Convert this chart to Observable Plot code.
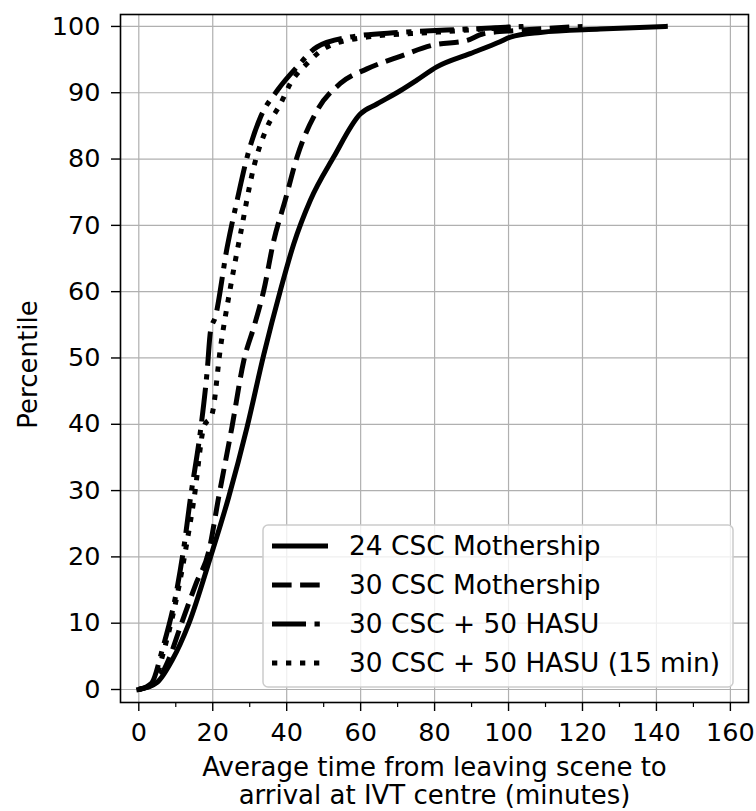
<!DOCTYPE html>
<html><head><meta charset="utf-8">
<script src="https://cdn.jsdelivr.net/npm/d3@7"></script>
<script src="https://cdn.jsdelivr.net/npm/@observablehq/plot@0.6"></script>
<style>
  html,body{margin:0;padding:0;background:#fff;}
  #chart svg{display:block;font-family:"DejaVu Sans",sans-serif;}
</style>
</head><body><div id="chart"></div>
<script>
// ---- data ----
const seriesNames = ["24 CSC Mothership", "30 CSC Mothership", "30 CSC + 50 HASU", "30 CSC + 50 HASU (15 min)"];

const time24 = [0, 5, 9, 13.5, 19.4, 24.3, 29.3, 33.8, 38.3, 41.9, 46.4, 52.7, 59.9, 64.4, 70.7, 75.2, 80.6, 89.6, 97.7, 100.5, 108.6, 124.8, 142.4];
const pct24  = [0, 1.1, 4.4, 9.9, 20, 29, 39.6, 50.5, 60.2, 67.2, 73.8, 80.3, 86.8, 88.3, 90.3, 91.9, 93.9, 95.9, 97.7, 98.4, 99.1, 99.6, 100];

const time30 = [0, 4.5, 8, 11.5, 15.5, 19, 21.6, 25.2, 28.4, 31.3, 33.8, 36.5, 39.6, 42.8, 48.2, 54.5, 61.7, 70.7, 79.7, 88.8, 93.2, 102.3, 110, 120];
const pct30  = [0, 1, 4.4, 9.9, 16, 21, 29, 39.6, 49.6, 55, 60.2, 67.7, 73.8, 80.3, 87.3, 91.4, 93.6, 95.5, 97.2, 97.9, 98.9, 99.4, 99.7, 100];

const timeHasu = [0, 3.5, 6.3, 10.4, 12.2, 14, 16.7, 18.5, 19.4, 20.7, 23.9, 26.6, 29.3, 32.9, 37.4, 42.8, 48.2, 57.2, 70.7, 88.8, 104];
const pctHasu  = [0, 1, 5.9, 15.4, 21.5, 29, 39.1, 48.1, 54.1, 56.2, 66.7, 73.8, 80.3, 86.3, 90.3, 93.9, 96.9, 98.4, 99.1, 99.6, 100];

const timeHasu15 = [0, 4, 6.8, 10.8, 12.8, 15, 17.6, 19.8, 22.1, 24.8, 27.5, 31.1, 34.7, 38.3, 41, 45.5, 50.9, 61.7, 79.7, 104];
const pctHasu15  = [0, 1, 5.9, 15.4, 21.5, 29, 39.6, 41.5, 51.6, 60.7, 68.7, 78.8, 84.8, 88.3, 91.4, 94.4, 96.9, 98.4, 99.1, 100];

const xTicks = [0, 20, 40, 60, 80, 100, 120, 140, 160];
const xMinorTicks = [10, 30, 50, 70, 90, 110, 130, 150];
const yTicks = [0, 10, 20, 30, 40, 50, 60, 70, 80, 90, 100];
const xLabel = "Average time from leaving scene to\narrival at IVT centre (minutes)";
const yLabel = "Percentile";

// ---- styles ----
const LW = 5;
const dashes = [null, "19.6,8.5", "34,8.5,5.3,8.5", "5.3,8.7"];

const rows = (xs, ys) => xs.map((x, i) => ({x, y: ys[i]}));
const seriesData = [rows(time24, pct24), rows(time30, pct30), rows(timeHasu, pctHasu), rows(timeHasu15, pctHasu15)];

const lineMarks = seriesData.map((d, i) => Plot.line(d, {
  x: "x", y: "y", stroke: "black", strokeWidth: LW,
  curve: "monotone-x",
  strokeDasharray: dashes[i] || undefined,
  strokeLinecap: i === 0 ? "square" : "butt",
  strokeLinejoin: "round"
}));

const chart = Plot.plot({
  width: 756, height: 811,
  marginLeft: 120, marginRight: 8, marginTop: 14, marginBottom: 109,
  style: {fontFamily: "DejaVu Sans", fontSize: "25.5px", background: "white", color: "black", overflow: "visible"},
  x: {domain: [-4.95, 164.9]},
  y: {domain: [-1.96, 101.8]},
  marks: [
    Plot.gridX(xTicks, {stroke: "#b0b0b0", strokeOpacity: 1, strokeWidth: 1.2}),
    Plot.gridY(yTicks, {stroke: "#b0b0b0", strokeOpacity: 1, strokeWidth: 1.2}),
    ...lineMarks,
    Plot.frame({stroke: "black", strokeWidth: 1.6}),
    Plot.axisX(xTicks, {tickSize: 9, tickPadding: 11.5, fontSize: 25.5, label: null, strokeWidth: 1.4}),
    Plot.axisX(xMinorTicks, {tickSize: 5, tickFormat: () => "", label: null, strokeWidth: 1.2}),
    Plot.axisY(yTicks, {tickSize: 9, tickPadding: 11, fontSize: 25.5, label: null, strokeWidth: 1.4}),
    Plot.text([xLabel], {text: d => d, frameAnchor: "bottom", textAnchor: "middle", dy: 53, lineAnchor: "top", lineHeight: 1.1, fontSize: 26}),
    Plot.text([yLabel], {text: d => d, frameAnchor: "left", textAnchor: "middle", rotate: -90, dx: -92, dy: 6, fontSize: 26})
  ]
});
document.getElementById("chart").appendChild(chart);

// ---- legend (drawn on top, inside the axes, lower right) ----
const svg = d3.select(chart);
const lg = svg.append("g").attr("class", "legend");
lg.append("rect")
  .attr("x", 263).attr("y", 525).attr("width", 470).attr("height", 162)
  .attr("rx", 5).attr("ry", 5)
  .attr("fill", "white").attr("fill-opacity", 0.8)
  .attr("stroke", "#cccccc").attr("stroke-width", 1.5);
seriesNames.forEach((name, i) => {
  const yy = 546 + 39 * i;
  const ln = lg.append("line")
    .attr("x1", 272).attr("x2", 328).attr("y1", yy).attr("y2", yy)
    .attr("stroke", "black").attr("stroke-width", LW)
    .attr("stroke-linecap", "butt");
  if (dashes[i]) ln.attr("stroke-dasharray", dashes[i]);
  lg.append("text")
    .attr("x", 349).attr("y", yy).attr("dy", "0.35em")
    .attr("text-anchor", "start")
    .attr("font-size", 26.4).attr("font-family", "DejaVu Sans")
    .attr("fill", "black")
    .text(name);
});
</script>
</body></html>
